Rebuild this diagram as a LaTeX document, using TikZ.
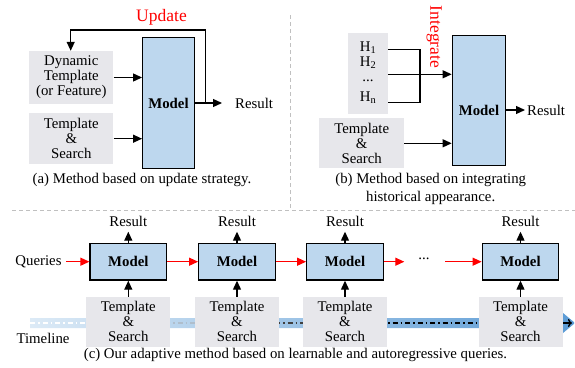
\documentclass[tikz,border=0pt]{standalone}
\usepackage{fontspec}
\setmainfont{Liberation Serif}
\usetikzlibrary{arrows.meta,calc}
\definecolor{boxgray}{HTML}{E7E7EB}
\definecolor{modelblue}{HTML}{BDD7EE}
\definecolor{sepgray}{HTML}{C0C0C0}
\definecolor{barL}{HTML}{DCEAF6}
\definecolor{barR}{HTML}{5B9BD5}
\begin{document}
\begin{tikzpicture}[x=1pt,y=-1pt,
  every node/.style={font=\fontsize{14.8}{15}\selectfont},
  gbox/.style={fill=boxgray,inner sep=0pt,align=center},
  mbox/.style={draw,fill=modelblue,line width=1.3pt,inner sep=0pt,font=\fontsize{14.8}{15}\selectfont\bfseries},
  arr/.style={line width=1.2pt,-{Triangle[length=9pt,width=8pt]}},
  rarr/.style={arr,red},
  sep/.style={sepgray,line width=1.3pt,dash pattern=on 4pt off 3pt},
  redlbl/.style={red,font=\fontsize{17.5}{18}\selectfont},
  hl/.style={inner sep=0pt},
  tl/.style={line width=2.2pt,dash pattern=on 5pt off 3pt on 1.5pt off 3pt}]
\useasboundingbox (0,0) rectangle (575,367);
% separators
\draw[sep] (290.7,15) -- (290.7,210.5);
\draw[sep] (12,210.5) -- (575,210.5);

% ---------- panel (a)
\node[mbox,minimum width=51.6pt,minimum height=130.6pt] (ma) at (168.5,103) {Model};
\node[gbox,minimum width=84pt,minimum height=53pt] (dyn) at (71.3,77.5) {Dynamic\\Template\\(or Feature)};
\node[gbox,minimum width=84pt,minimum height=50.7pt] (tsa) at (71.3,138.7) {Template\\\&\\Search};
\draw[arr] (dyn.east) -- (dyn.east -| ma.west);
\draw[arr] (tsa.east) -- (tsa.east -| ma.west);
\node[anchor=west,inner sep=0pt] (resa) at (235,103) {Result};
\coordinate (resaend) at (222,103);
\draw[arr] (ma.east) -- (resaend);
\coordinate (loop) at (205.7,103);
\draw[arr] (loop) -- (205.7,30) -- (70.7,30) -- (dyn.north -| 70.7,0);
\node[redlbl] (upd) at (161.5,17) {Update};
\node (capa) at (142,180) {(a) Method based on update strategy.};

% ---------- panel (b)
\node[draw,fill=modelblue,line width=1.3pt,minimum width=53.4pt,minimum height=130pt,inner sep=0pt] (mb) at (479,100.7) {};
\node[font=\fontsize{14.8}{15}\selectfont\bfseries] (mbt) at (479,110) {Model};
\node[gbox,minimum width=39.4pt,minimum height=81pt] (hb) at (368,73.8) {};
\node[hl] (h1) at (368,47.5) {H\textsubscript{1}};
\node[hl] (h2) at (368,62.5) {H\textsubscript{2}};
\node[hl] (hd) at (368,80.5) {...};
\node[hl] (hn) at (368,98) {H\textsubscript{n}};
\draw[line width=1.2pt] (hb.east |- 0,49.3) -- (420,49.3) -- (420,102.3) -- (hb.east |- 0,102.3);
\draw[arr] (hb.east |- 0,74.3) -- (mb.west |- 0,74.3);
\node[redlbl,rotate=-90] (integ) at (434.3,37) {Integrate};
\node[gbox,minimum width=84.7pt,minimum height=50pt] (tsb) at (361.7,143.3) {Template\\\&\\Search};
\draw[arr] (tsb.east) -- (tsb.east -| mb.west);
\coordinate (resbend) at (525,110);
\draw[arr] (mb.east |- resbend) -- (resbend);
\node[anchor=west,inner sep=0pt] (resb) at (527,110) {Result};
\node[align=center] (capb) at (430.7,189) {(b) Method based on integrating\\[3pt]historical appearance.};

% ---------- panel (c)
\shade[left color=barL,right color=barR] (30,318) -- (563,318) -- (563,313) -- (575,323) -- (563,333) -- (563,328) -- (30,328) -- cycle;
\draw[tl,white] (30,323) -- (90,323);
\draw[tl,color=barR!60!black!40] (165,323) -- (200,323);
\draw[tl,black!75] (275,323) -- (310,323);
\draw[tl,black] (380,323) -- (485,323);
\draw[line width=1.3pt,-{To[length=4pt,width=8pt]}] (555,323) -- (572,323);

\foreach \i/\x in {1/128.3,2/237,3/345,4/520.5}{
  \node[mbox,minimum width=76.5pt,minimum height=36.7pt] (m\i) at (\x,261.7) {Model};
  \node[gbox,minimum width=84pt,minimum height=50pt] (ts\i) at (\x,321.7) {Template\\\&\\Search};
  \node (r\i) at (\x,221.7) {Result};
  \draw[arr] (ts\i.north) -- (m\i.south);
  \draw[arr] (m\i.north) -- (\x,231.7);
}
\node (q) at (38.5,262) {Queries};
\coordinate (qs) at (66,261.7);
\draw[rarr] (qs) -- (m1.west);
\draw[rarr] (m1.east) -- (m2.west);
\draw[rarr] (m2.east) -- (m3.west);
\coordinate (d1) at (404.3,261.7);
\coordinate (d2) at (445,261.7);
\draw[rarr] (m3.east) -- (d1);
\node (dots) at (424,259) {...};
\draw[rarr] (d2) -- (m4.west);
\node (tln) at (43,338) {Timeline};
\node (capc) at (295.5,355) {(c) Our adaptive method based on learnable and autoregressive queries.};
\end{tikzpicture}
\end{document}
